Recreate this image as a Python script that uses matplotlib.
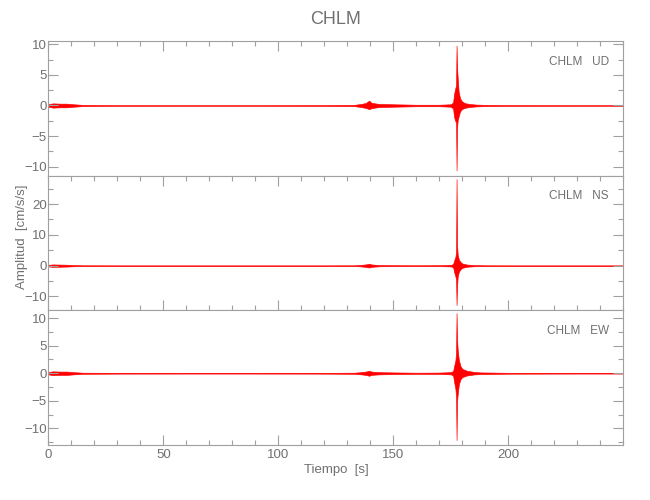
import numpy as np
import matplotlib
matplotlib.use("Agg")
import matplotlib.pyplot as plt
from matplotlib.ticker import MultipleLocator, FixedLocator

plt.rcParams['font.family'] = ['Liberation Sans Narrow', 'Liberation Sans', 'DejaVu Sans']

station = "CHLM"
components = ["UD", "NS", "EW"]
x_label = "Tiempo  [s]"
y_label = "Amplitud  [cm/s/s]"
x_limits = (0, 250)
x_major_ticks = [0, 50, 100, 150, 200]

# envelope of each trace (time [s], upper and lower amplitude [cm/s/s])
t_ud = [0, 2, 5, 8, 11, 15, 30, 60, 90, 120, 133, 136, 138, 139.5, 140.5, 142, 144, 150, 160, 170, 175,
        176.0, 176.4, 176.8, 177.3, 177.5, 177.7, 178.0, 178.4, 179.0, 179.8, 181, 183, 186, 190, 200, 230, 250]
ud_hi = [0.2, 0.35, 0.3, 0.3, 0.2, 0.1, 0.06, 0.05, 0.05, 0.07, 0.1, 0.25, 0.4, 0.8, 0.45, 0.35, 0.25, 0.2, 0.12, 0.12, 0.2,
         0.5, 1.8, 2.6, 3.3, 9.8, 6.3, 4.5, 2.3, 1.2, 0.7, 0.4, 0.25, 0.15, 0.1, 0.07, 0.05, 0.05]
ud_lo = [-0.2, -0.35, -0.3, -0.3, -0.2, -0.1, -0.06, -0.05, -0.05, -0.07, -0.1, -0.25, -0.4, -0.6, -0.45, -0.35, -0.25, -0.2, -0.12, -0.12, -0.2,
         -0.5, -1.8, -2.4, -2.8, -10.6, -3.8, -2.4, -1.8, -1.0, -0.6, -0.4, -0.25, -0.15, -0.1, -0.07, -0.05, -0.05]

t_ns = [0, 2, 5, 8, 11, 15, 30, 60, 90, 120, 133, 136, 138, 139.5, 140.5, 142, 144, 150, 160, 170, 175,
        176.0, 176.5, 177.0, 177.3, 177.5, 177.7, 178.0, 178.5, 179.2, 180, 182, 185, 190, 200, 230, 250]
ns_hi = [0.25, 0.4, 0.35, 0.3, 0.2, 0.12, 0.1, 0.1, 0.1, 0.1, 0.12, 0.25, 0.4, 0.6, 0.4, 0.3, 0.2, 0.15, 0.12, 0.15, 0.25,
         0.5, 1.8, 2.8, 4.5, 28.1, 7.0, 3.5, 2.0, 1.2, 0.7, 0.35, 0.2, 0.12, 0.1, 0.1, 0.1]
ns_lo = [-0.25, -0.4, -0.35, -0.3, -0.2, -0.12, -0.1, -0.1, -0.1, -0.1, -0.12, -0.25, -0.4, -0.6, -0.4, -0.3, -0.2, -0.15, -0.12, -0.15, -0.25,
         -0.5, -2.2, -3.5, -4.5, -12.8, -7.0, -3.5, -2.0, -1.2, -0.7, -0.35, -0.2, -0.12, -0.1, -0.1, -0.1]

t_ew = [0, 2, 5, 8, 11, 15, 30, 60, 90, 120, 133, 136, 138, 139.5, 140.5, 142, 144, 150, 160, 170, 175,
        176.0, 176.5, 177.0, 177.3, 177.5, 177.7, 178.0, 178.5, 179.2, 180, 182, 185, 188, 200, 230, 250]
ew_hi = [0.2, 0.35, 0.3, 0.3, 0.2, 0.1, 0.07, 0.06, 0.06, 0.07, 0.1, 0.2, 0.3, 0.45, 0.3, 0.25, 0.2, 0.15, 0.1, 0.12, 0.2,
         0.4, 1.4, 2.3, 3.8, 10.9, 6.4, 4.2, 2.4, 1.3, 0.8, 0.45, 0.25, 0.15, 0.08, 0.06, 0.06]
ew_lo = [-0.2, -0.35, -0.3, -0.3, -0.2, -0.1, -0.07, -0.06, -0.06, -0.07, -0.1, -0.2, -0.3, -0.45, -0.3, -0.25, -0.2, -0.15, -0.1, -0.12, -0.2,
         -0.4, -1.7, -2.8, -4.3, -12.1, -5.2, -3.8, -2.0, -1.1, -0.7, -0.4, -0.22, -0.15, -0.08, -0.06, -0.06]

y_limits = [(-11.47, 10.54), (-14.5, 29.2), (-13.0, 11.4)]
y_major = [5, 10, 5]
y_minor = [2.5, 5, 2.5]

traces = [(t_ud, ud_lo, ud_hi), (t_ns, ns_lo, ns_hi), (t_ew, ew_lo, ew_hi)]

frame_col = "#a0a0a0"
text_col = "#707070"

fig = plt.figure(figsize=(6.5, 5), dpi=100)
left, width = 48.3 / 650, 575 / 650
top_px, bot_px = 41, 445
ph = (bot_px - top_px) / 3
for i in range(3):
    y0 = 1 - (top_px + (i + 1) * ph) / 500
    ax = fig.add_axes([left, y0, width, ph / 500])
    t, lo, hi = traces[i]
    ax.fill_between(t, lo, hi, color="red", edgecolor="red", linewidth=0.45)
    ax.set_xlim(*x_limits)
    ax.set_ylim(*y_limits[i])
    ax.xaxis.set_major_locator(FixedLocator(x_major_ticks))
    ax.xaxis.set_minor_locator(MultipleLocator(10))
    ax.yaxis.set_major_locator(MultipleLocator(y_major[i]))
    ax.yaxis.set_minor_locator(MultipleLocator(y_minor[i]))
    ax.tick_params(which="both", direction="in", colors=frame_col, labelcolor=text_col,
                   labelsize=9.5, top=True, bottom=True, left=True, right=True, width=0.8)
    if i == 0:
        ax.tick_params(which="both", bottom=False)
    if i == 2:
        ax.tick_params(which="both", top=False)
    ax.tick_params(which="major", length=7.2)
    ax.tick_params(which="minor", length=3.8)
    ax.tick_params(axis="y", pad=1)
    ax.tick_params(axis="x", pad=3)
    if i < 2:
        ax.tick_params(axis="x", labelbottom=False)
    for s in ax.spines.values():
        s.set_color(frame_col)
        s.set_linewidth(0.8)
    ax.text(0.975, 0.846, f"{station}   {components[i]}", transform=ax.transAxes,
            ha="right", va="center", fontsize=8.5, color=text_col)

fig.text(336 / 650, 1 - 20 / 500, station, ha="center", va="center", fontsize=13, color=text_col)
fig.text(336 / 650, 1 - 470 / 500, x_label, ha="center", va="center", fontsize=9.5, color=text_col)
fig.text(22 / 650, 1 - 237 / 500, y_label, ha="center", va="center", rotation=90, fontsize=9.5, color=text_col)

fig.savefig("out.png", dpi=100)
